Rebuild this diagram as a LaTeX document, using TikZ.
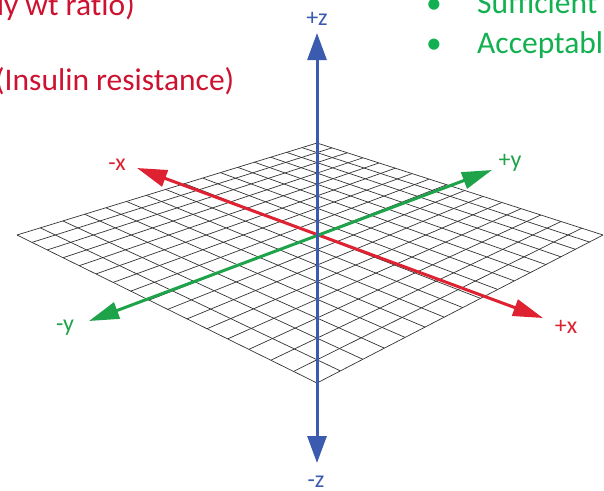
\documentclass[tikz,border=0pt]{standalone}
\usepackage{fontspec}
\setmainfont{Carlito}[Ligatures=NoCommon]
\usetikzlibrary{arrows.meta}

\definecolor{axisred}{HTML}{DE2231}
\definecolor{axisgreen}{HTML}{1FA34A}
\definecolor{axisblue}{HTML}{3B5BAE}
\definecolor{notered}{HTML}{CC1230}
\definecolor{notegreen}{HTML}{12B050}

% point (u,v) of the plane, seen in perspective
\newcommand\gridpt[3]{%
  \pgfmathsetmacro\pp{(#2)-(#3)}%
  \pgfmathsetmacro\qq{(#2)+(#3)}%
  \pgfmathsetmacro\dd{1-0.11667*\qq+0.011946*\pp}%
  \coordinate (#1) at ({317+146.42*\pp/\dd},{235+56.73*\qq/\dd});}

\begin{document}
\begin{tikzpicture}[x=1pt, y=-1pt,
    gridline/.style={draw=black!80, line width=0.7pt},
    axisline/.style={line width=3pt,
      {Triangle[length=30pt,width=17pt]}-{Triangle[length=30pt,width=17pt]}},
    zline/.style={line width=3pt,
      {Triangle[length=27pt,width=19pt]}-{Triangle[length=27pt,width=19pt]}},
    axislabel/.style={font=\fontsize{24}{28}\selectfont, anchor=base, inner sep=0pt},
    notetext/.style={font=\fontsize{31.5}{36}\selectfont, anchor=base west, inner sep=0pt}
  ]
  \clip (0,0) rectangle (604,490);

  % notes at the top
  \node[notetext, anchor=base east, text=notered] (ratio) at (135,15) {dy wt ratio)};
  \node[notetext, text=notered] (insulin) at (-5,90) {(Insulin resistance)};
  \node[notetext, text=notegreen] (bulA) at (426,13) {\textbullet};
  \node[notetext, text=notegreen] (suff) at (477,13) {Sufficient};
  \node[notetext, text=notegreen] (bulB) at (426,53) {\textbullet};
  \node[notetext, text=notegreen] (accept) at (477,53) {Acceptable};

  % grid plane
  \foreach \i in {0,...,16} {
    \pgfmathsetmacro\t{\i/8-1}
    \gridpt{ua}{\t}{-1}
    \gridpt{ub}{\t}{1}
    \gridpt{va}{-1}{\t}
    \gridpt{vb}{1}{\t}
    \draw[gridline] (ua) -- (ub);
    \draw[gridline] (va) -- (vb);
  }

  % axes
  \coordinate (xm) at (137,168);
  \coordinate (xp) at (543,318);
  \coordinate (ym) at (89,321);
  \coordinate (yp) at (492,170);
  \coordinate (zp) at (317,33);
  \coordinate (zm) at (317,463);

  \draw[axisline, axisred] (xm) -- (xp);
  \draw[axisline, axisgreen] (ym) -- (yp);
  \draw[zline, axisblue] (zm) -- (zp);

  \node[axislabel, text=axisred] (lxm) at (117,170) {-x};
  \node[axislabel, text=axisred] (lxp) at (566,333) {+x};
  \node[axislabel, text=axisgreen] (lym) at (65,331) {-y};
  \node[axislabel, text=axisgreen] (lyp) at (510,167) {+y};
  \node[axislabel, text=axisblue] (lzp) at (317,25) {+z};
  \node[axislabel, text=axisblue] (lzm) at (316,487) {-z};
\end{tikzpicture}
\end{document}
